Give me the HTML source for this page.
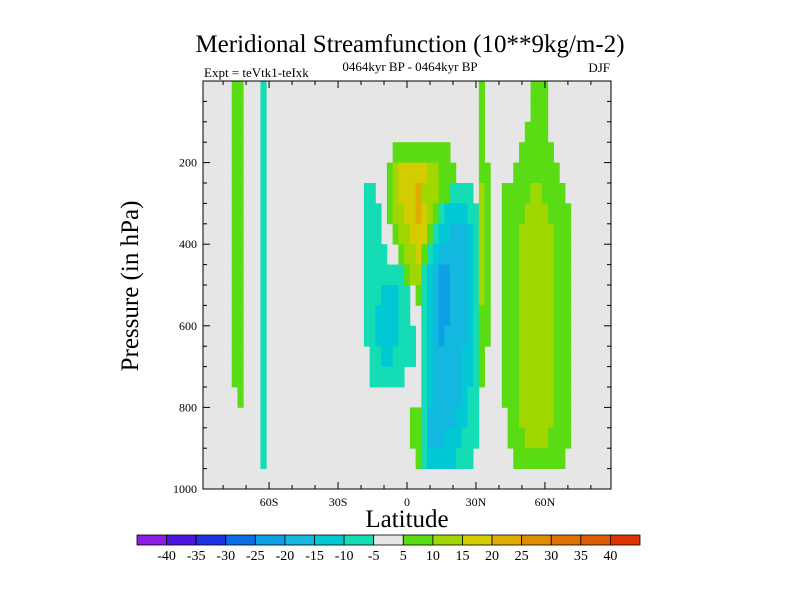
<!DOCTYPE html>
<html><head><meta charset="utf-8"><style>
body{margin:0;background:#fff;}
svg{display:block;font-family:"Liberation Serif",serif;}
</style></head><body>
<svg id="chart" width="800" height="600" viewBox="0 0 800 600">
<text x="410" y="52" text-anchor="middle" font-size="25">Meridional Streamfunction (10**9kg/m-2)</text>
<text x="410" y="71" text-anchor="middle" font-size="13">0464kyr BP - 0464kyr BP</text>
<text x="204" y="77" font-size="13">Expt = teVtk1-teIxk</text>
<text x="610" y="72" text-anchor="end" font-size="13">DJF</text>
<text transform="translate(138,286) rotate(-90)" text-anchor="middle" font-size="25">Pressure (in hPa)</text>
<text x="407" y="527" text-anchor="middle" font-size="25">Latitude</text>
<rect x="203" y="81" width="408" height="408" fill="#e6e6e6"/>
<g id="cells"></g>
<g id="axes"></g>
<g id="cbar"></g>
</svg>
<script>
// ---- data ----
const latStart = -88.75, latStep = 2.5, nCols = 71;
const presStep = 50; // hPa per row, 20 rows from 0 to 1000
const levelBounds = [-40,-35,-30,-25,-20,-15,-10,-5,5,10,15,20,25,30,35,40];
const levelColors = ["#8c1ee6","#4c14e0","#1e32e6","#0a6ee6","#0ea0e6","#12b8e0","#00c8d4","#14dcb4","#e6e6e6","#5adc14","#a0d700","#d2cc00","#e0ac00","#e08c00","#e07000","#e05a00","#e03200"];
const cbarLabels = ["-40","-35","-30","-25","-20","-15","-10","-5","5","10","15","20","25","30","35","40"];
const xTickVals = [-60,-30,0,30,60];
const xTickLabels = ["60S","30S","0","30N","60N"];
const yTickVals = [200,400,600,800,1000];
const yTickLabels = ["200","400","600","800","1000"];
// per pressure row: runs of [firstCol, lastCol, value]  (later runs overwrite)
const rowRuns = [
 [[5,6,7.5],[10,10,-7.5],[48,48,7.5],[57,59,7.5]],
 [[5,6,7.5],[10,10,-7.5],[48,48,7.5],[57,59,7.5]],
 [[5,6,7.5],[10,10,-7.5],[48,48,7.5],[56,59,7.5]],
 [[5,6,7.5],[10,10,-7.5],[33,42,7.5],[48,48,7.5],[55,60,7.5]],
 [[5,6,7.5],[10,10,-7.5],[32,43,7.5],[33,40,12.5],[34,38,17.5],[48,49,7.5],[54,61,7.5]],
 [[5,6,7.5],[10,10,-7.5],[28,29,-7.5],[32,42,7.5],[33,40,12.5],[34,37,17.5],[37,37,22.5],[43,46,-7.5],[48,49,7.5],[48,48,12.5],[52,62,7.5],[57,58,12.5]],
 [[5,6,7.5],[10,10,-7.5],[28,30,-7.5],[32,40,7.5],[33,39,12.5],[35,38,17.5],[37,37,22.5],[41,47,-7.5],[42,45,-12.5],[48,49,7.5],[48,48,12.5],[52,63,7.5],[56,59,12.5]],
 [[5,6,7.5],[10,10,-7.5],[28,30,-7.5],[33,39,7.5],[34,38,12.5],[36,38,17.5],[40,47,-7.5],[41,46,-12.5],[43,45,-17.5],[48,49,7.5],[48,48,12.5],[52,63,7.5],[55,60,12.5]],
 [[5,6,7.5],[10,10,-7.5],[28,31,-7.5],[34,38,7.5],[35,37,12.5],[37,37,17.5],[39,47,-7.5],[40,46,-12.5],[41,45,-17.5],[48,49,7.5],[48,48,12.5],[52,63,7.5],[55,60,12.5]],
 [[5,6,7.5],[10,10,-7.5],[28,34,-7.5],[35,37,7.5],[36,37,12.5],[38,47,-7.5],[39,46,-12.5],[40,45,-17.5],[41,42,-22.5],[48,49,7.5],[48,48,12.5],[52,63,7.5],[55,60,12.5]],
 [[5,6,7.5],[10,10,-7.5],[28,35,-7.5],[31,33,-12.5],[37,37,7.5],[38,47,-7.5],[39,46,-12.5],[40,45,-17.5],[41,42,-22.5],[48,49,7.5],[48,48,12.5],[52,63,7.5],[55,60,12.5]],
 [[5,6,7.5],[10,10,-7.5],[28,35,-7.5],[30,33,-12.5],[38,47,-7.5],[39,46,-12.5],[40,45,-17.5],[41,42,-22.5],[48,49,7.5],[52,63,7.5],[55,60,12.5]],
 [[5,6,7.5],[10,10,-7.5],[28,36,-7.5],[30,33,-12.5],[38,47,-7.5],[39,46,-12.5],[40,45,-17.5],[41,41,-22.5],[48,49,7.5],[52,63,7.5],[55,60,12.5]],
 [[5,6,7.5],[10,10,-7.5],[29,36,-7.5],[31,32,-12.5],[38,47,-7.5],[39,46,-12.5],[40,44,-17.5],[48,48,7.5],[52,63,7.5],[55,60,12.5]],
 [[5,6,7.5],[10,10,-7.5],[29,34,-7.5],[38,47,-7.5],[39,46,-12.5],[40,44,-17.5],[48,48,7.5],[52,63,7.5],[55,60,12.5]],
 [[6,6,7.5],[10,10,-7.5],[38,47,-7.5],[39,45,-12.5],[40,44,-17.5],[52,63,7.5],[55,60,12.5]],
 [[10,10,-7.5],[36,37,7.5],[38,47,-7.5],[39,45,-12.5],[39,43,-17.5],[53,63,7.5],[55,60,12.5]],
 [[10,10,-7.5],[36,37,7.5],[38,47,-7.5],[39,44,-12.5],[39,41,-17.5],[53,63,7.5],[56,59,12.5]],
 [[10,10,-7.5],[37,37,7.5],[38,46,-7.5],[39,43,-12.5],[54,62,7.5]],
 []
];
// ---- axes ----
const X0=203, X1=611, Y0=81, Y1=489;
const xScale = lat => X0 + (lat - latStart) / (latStep*nCols) * (X1-X0);
const yScale = p => Y0 + p/1000*(Y1-Y0);
function colorFor(v){let i=0;while(i<levelBounds.length && v>=levelBounds[i])i++;return levelColors[i];}
const NS="http://www.w3.org/2000/svg";
function mk(tag,attrs,parent){const e=document.createElementNS(NS,tag);for(const k in attrs)e.setAttribute(k,attrs[k]);parent.appendChild(e);return e;}
const cells=document.getElementById('cells');
rowRuns.forEach((runs,r)=>{
  const vals=new Array(nCols).fill(0);
  runs.forEach(([a,b,v])=>{for(let c=a;c<=b;c++)vals[c]=v;});
  vals.forEach((v,c)=>{
    if(v===0)return;
    const x=xScale(latStart+c*latStep), x2=xScale(latStart+(c+1)*latStep);
    const y=yScale(r*presStep), y2=yScale((r+1)*presStep);
    const e=mk('rect',{x:x,y:y,width:x2-x+0.4,height:y2-y+0.4,fill:colorFor(v)},cells);
    
    
  });
});
const axes=document.getElementById('axes');
const fr=mk('rect',{x:X0,y:Y0,width:X1-X0,height:Y1-Y0,fill:'none',stroke:'#000','stroke-width':1},axes);


for(let lat=-80;lat<=80;lat+=10){
  const x=xScale(lat), L=(lat%30===0)?7:4;
  mk('line',{x1:x,y1:Y1,x2:x,y2:Y1-L,stroke:'#000'},axes);
  mk('line',{x1:x,y1:Y0,x2:x,y2:Y0+L,stroke:'#000'},axes);
}
for(let p=50;p<1000;p+=50){
  const y=yScale(p), L=(p%200===0)?7:4;
  mk('line',{x1:X0,y1:y,x2:X0+L,y2:y,stroke:'#000'},axes);
  mk('line',{x1:X1,y1:y,x2:X1-L,y2:y,stroke:'#000'},axes);
}
xTickVals.forEach((v,i)=>{
  const t=mk('text',{x:xScale(v),y:506,'text-anchor':'middle','font-size':12},axes);
  t.textContent=xTickLabels[i];
  
  
});
yTickVals.forEach((v,i)=>{
  const t=mk('text',{x:197,y:yScale(v)+4,'text-anchor':'end','font-size':12},axes);
  t.textContent=yTickLabels[i];
  
  
});
// ---- colorbar ----
const cb=document.getElementById('cbar');
const CB0=137, CB1=640, CBy=535, CBh=10, bw=(CB1-CB0)/levelColors.length;
levelColors.forEach((c,i)=>{
  const e=mk('rect',{x:CB0+i*bw,y:CBy,width:bw,height:CBh,fill:c,stroke:'#000','stroke-width':0.8},cb);
  
  
});
cbarLabels.forEach((s,i)=>{
  const t=mk('text',{x:CB0+(i+1)*bw,y:560,'text-anchor':'middle','font-size':14},cb);
  t.textContent=s;
  
  
});
</script>
</body></html>
